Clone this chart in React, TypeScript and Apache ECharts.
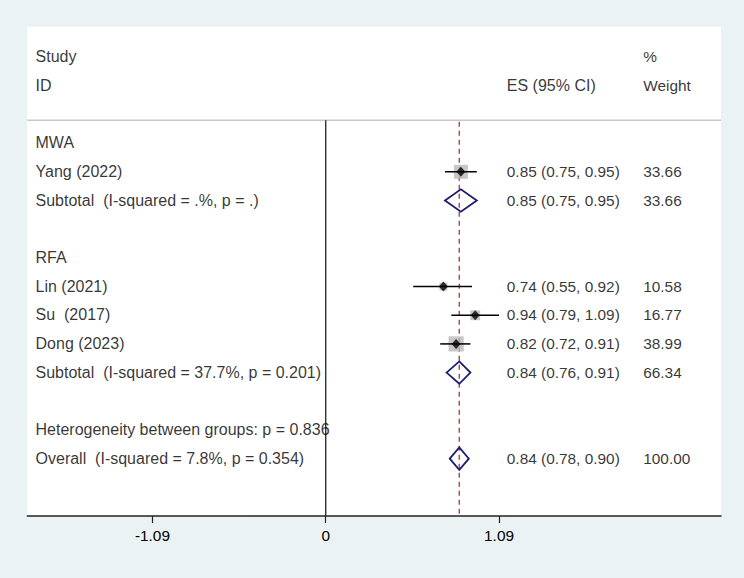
import React, { useEffect, useRef } from "react";
import * as echarts from "echarts";

// ---- data ----
const studyNames = ["Yang (2022)", "Lin (2021)", "Su  (2017)", "Dong (2023)"];
const studyRows = [4, 8, 9, 10];
const studyES = [0.85, 0.74, 0.94, 0.82];
const studyLo = [0.75, 0.55, 0.79, 0.72];
const studyHi = [0.95, 0.92, 1.09, 0.91];
const studyWeights = [33.66, 10.58, 16.77, 38.99];

const pooledNames = [
  "Subtotal  (I-squared = .%, p = .)",
  "Subtotal  (I-squared = 37.7%, p = 0.201)",
  "Overall  (I-squared = 7.8%, p = 0.354)",
];
const pooledRows = [5, 11, 14];
const pooledES = [0.85, 0.84, 0.84];
const pooledLo = [0.75, 0.76, 0.78];
const pooledHi = [0.95, 0.91, 0.9];
const pooledWeights = [33.66, 66.34, 100.0];

const groupNames = ["MWA", "RFA"];
const groupRows = [3, 7];
const hetText = "Heterogeneity between groups: p = 0.836";
const hetRow = 13;

const headerLeft = ["Study", "ID"];
const headerES = ["", "ES (95% CI)"];
const headerWeight = ["%", "Weight"];

const overallES = 0.84;
const tickValues = [-1.09, 0, 1.09];
const tickLabels = ["-1.09", "0", "1.09"];

// layout constants (data units)
const X_MIN = -1.877;
const X_MAX = 2.486;
const Y_MIN = -1.06;
const Y_MAX = 16;
const COL_LEFT = -1.822;
const COL_ES = 1.142;
const COL_W = 2.0;
const SEP_ROW = 2.2;

const fmt = (v: number) => v.toFixed(2);

export default function App() {
  const ref = useRef<HTMLDivElement>(null);
  useEffect(() => {
    if (!ref.current) return;
    const chart = echarts.init(ref.current, undefined, { renderer: "svg" });

    const TEXT_SIZE = 16;
    const NUM_SIZE = 15.4;
    const texts: any[] = [];
    const addText = (x: number, r: number, t: string, size: number) => {
      if (t) texts.push({ value: [x, r], name: t, label: { fontSize: size } });
    };
    headerLeft.forEach((t, i) => addText(COL_LEFT, i, t, TEXT_SIZE));
    headerES.forEach((t, i) => addText(COL_ES, i, t, TEXT_SIZE));
    headerWeight.forEach((t, i) => addText(COL_W, i, t, NUM_SIZE));
    groupNames.forEach((t, i) => addText(COL_LEFT, groupRows[i], t, TEXT_SIZE));
    studyNames.forEach((t, i) => {
      addText(COL_LEFT, studyRows[i], t, TEXT_SIZE);
      addText(COL_ES, studyRows[i], `${fmt(studyES[i])} (${fmt(studyLo[i])}, ${fmt(studyHi[i])})`, NUM_SIZE);
      addText(COL_W, studyRows[i], fmt(studyWeights[i]), NUM_SIZE);
    });
    pooledNames.forEach((t, i) => {
      addText(COL_LEFT, pooledRows[i], t, TEXT_SIZE);
      addText(COL_ES, pooledRows[i], `${fmt(pooledES[i])} (${fmt(pooledLo[i])}, ${fmt(pooledHi[i])})`, NUM_SIZE);
      addText(COL_W, pooledRows[i], fmt(pooledWeights[i]), NUM_SIZE);
    });
    addText(COL_LEFT, hetRow, hetText, TEXT_SIZE);

    const font = "'Liberation Sans', Arial, sans-serif";

    const option: any = {
      animation: false,
      backgroundColor: "#EAF2F3",
      grid: {
        left: 27.3,
        right: 23,
        top: 26.7,
        bottom: 62,
        show: true,
        backgroundColor: "#ffffff",
        borderWidth: 0,
      },
      xAxis: {
        type: "value",
        min: X_MIN,
        max: X_MAX,
        axisLine: { show: true, onZero: false, lineStyle: { color: "#222", width: 1.5 } },
        axisTick: {
          show: true,
          length: 7,
          customValues: tickValues,
          lineStyle: { color: "#222", width: 1.2 },
        },
        axisLabel: {
          show: true,
          customValues: tickValues,
          margin: 12,
          fontSize: 15.4,
          fontFamily: font,
          color: "#000",
          formatter: (v: number) => {
            const i = tickValues.findIndex((t) => Math.abs(t - v) < 1e-6);
            return i >= 0 ? tickLabels[i] : "";
          },
        },
        splitLine: { show: false },
      },
      yAxis: {
        type: "value",
        inverse: true,
        min: Y_MIN,
        max: Y_MAX,
        show: false,
        splitLine: { show: false },
      },
      series: [
        // header separator
        {
          type: "line",
          data: [
            [X_MIN, SEP_ROW],
            [X_MAX, SEP_ROW],
          ],
          symbol: "none",
          silent: true,
          lineStyle: { color: "#c8c8c8", width: 1.5 },
        },
        // null line
        {
          type: "line",
          data: [
            [0, SEP_ROW],
            [0, Y_MAX],
          ],
          symbol: "none",
          silent: true,
          lineStyle: { color: "#222", width: 1.3 },
        },
        // overall effect dashed line
        {
          type: "line",
          data: [
            [overallES, SEP_ROW + 0.05],
            [overallES, Y_MAX],
          ],
          symbol: "none",
          silent: true,
          lineStyle: { color: "#b34a5a", width: 1.5, type: [5, 4] },
        },
        // weight squares
        {
          type: "scatter",
          symbol: "rect",
          silent: true,
          data: studyES.map((v, i) => ({
            value: [v, studyRows[i]],
            symbolSize: 2.42 * Math.sqrt(studyWeights[i]),
          })),
          itemStyle: { color: "#b9b9b9" },
          z: 3,
        },
        // CI lines
        {
          type: "custom",
          silent: true,
          z: 4,
          data: studyES.map((v, i) => [studyLo[i], studyHi[i], studyRows[i]]),
          renderItem: (params: any, api: any) => {
            const a = api.coord([api.value(0), api.value(2)]);
            const b = api.coord([api.value(1), api.value(2)]);
            return {
              type: "line",
              shape: { x1: a[0], y1: a[1], x2: b[0], y2: b[1] },
              style: { stroke: "#000", lineWidth: 1.5 },
            };
          },
        },
        // point estimates
        {
          type: "scatter",
          symbol: "diamond",
          symbolSize: [9, 10],
          silent: true,
          z: 5,
          data: studyES.map((v, i) => [v, studyRows[i]]),
          itemStyle: { color: "#000" },
        },
        // pooled diamonds
        {
          type: "custom",
          silent: true,
          z: 5,
          data: pooledES.map((v, i) => [pooledLo[i], v, pooledHi[i], pooledRows[i]]),
          renderItem: (params: any, api: any) => {
            const r = api.value(3);
            const h = 0.39;
            const p1 = api.coord([api.value(0), r]);
            const p2 = api.coord([api.value(1), r - h]);
            const p3 = api.coord([api.value(2), r]);
            const p4 = api.coord([api.value(1), r + h]);
            return {
              type: "polygon",
              shape: { points: [p1, p2, p3, p4] },
              style: { fill: "none", stroke: "#1c1c6e", lineWidth: 1.8 },
            };
          },
        },
        // texts
        {
          type: "scatter",
          silent: true,
          symbolSize: 1,
          itemStyle: { color: "rgba(0,0,0,0)" },
          z: 6,
          data: texts,
          label: {
            show: true,
            position: [0, 0],
            align: "left",
            verticalAlign: "middle",
            formatter: "{b}",
            fontSize: TEXT_SIZE,
            fontFamily: font,
            color: "#000",
          },
          labelLayout: { hideOverlap: false },
        },
      ],
    };

    chart.setOption(option);
    return () => chart.dispose();
  }, []);

  return (
    <div
      ref={ref}
      style={{ position: "fixed", left: 0, top: 0, width: 744, height: 578 }}
    />
  );
}
